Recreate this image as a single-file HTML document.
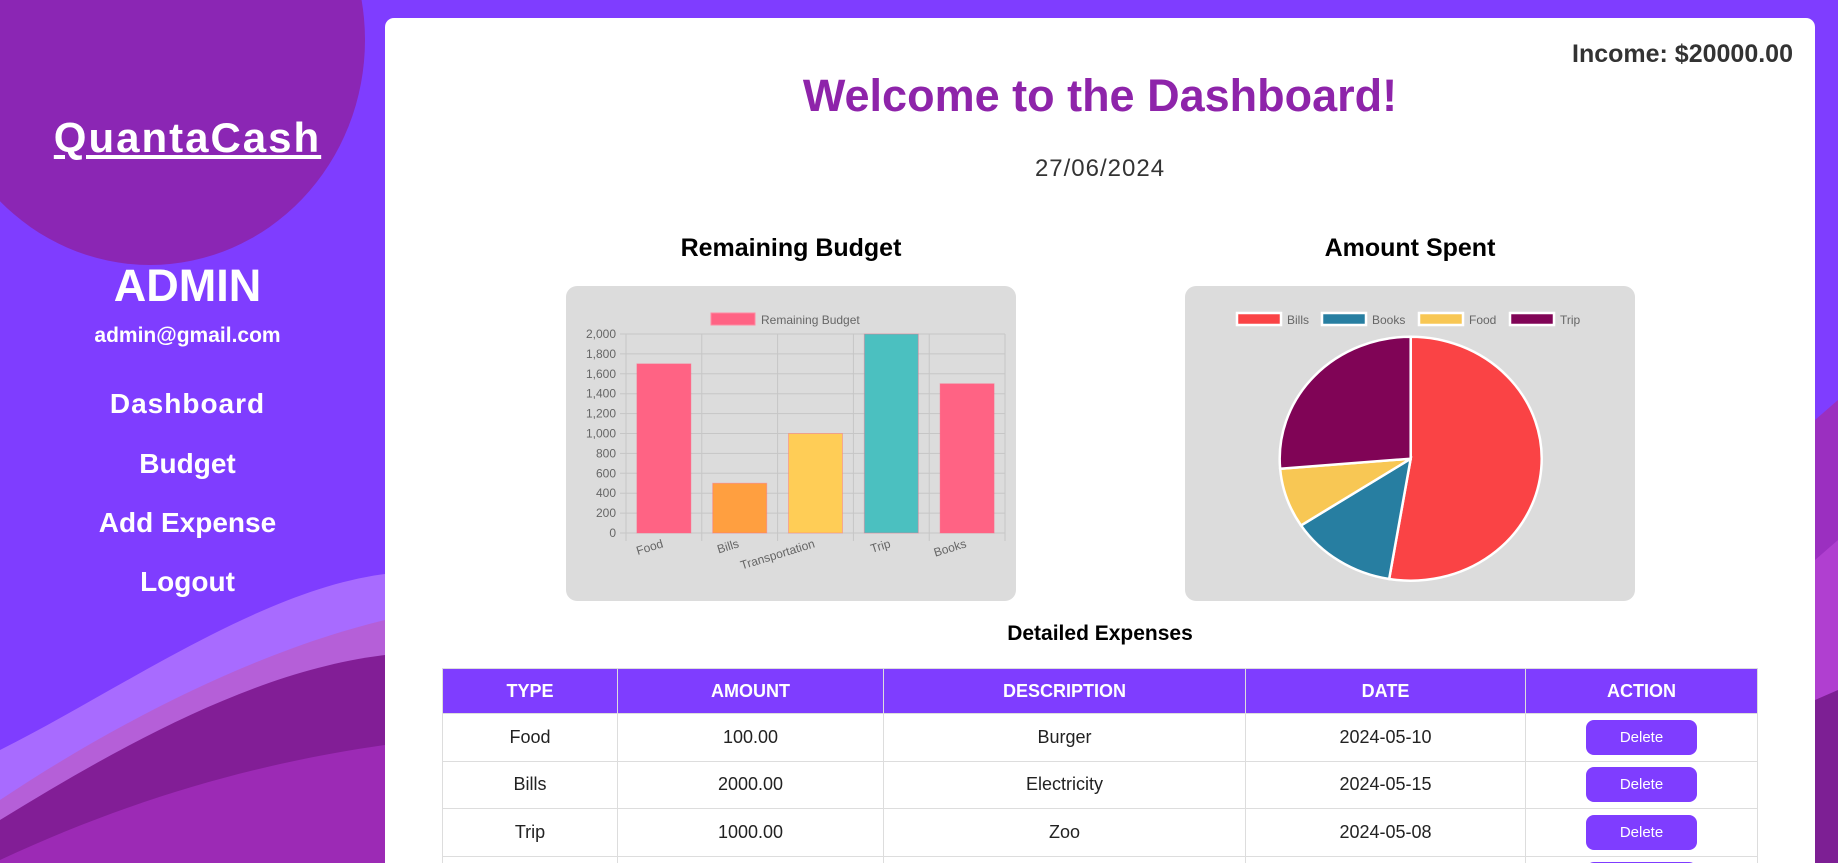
<!DOCTYPE html>
<html><head><meta charset="utf-8"><style>
*{margin:0;padding:0;box-sizing:border-box}
html,body{width:1838px;height:863px;overflow:hidden}
body{background:#7f3dff;font-family:"Liberation Sans",sans-serif;position:relative}
#root{position:absolute;left:0;top:0;width:1838px;height:863px;overflow:hidden}
.abs{position:absolute}
.side{left:0;top:0;width:385px;height:863px;overflow:hidden}
.nav{position:absolute;left:0;width:375px;text-align:center;color:#fff;font-weight:bold;font-size:28px}
.card{left:385px;top:18px;width:1430px;height:860px;background:#fff;border-radius:9px;overflow:hidden}
.ctext{position:absolute;text-align:center}
table{position:absolute;left:57px;top:650px;width:1316px;border-collapse:collapse;font-size:18px}
th{background:#7f3dff;color:#fff;height:45px;font-weight:bold;border:1px solid #ddd}
td{height:47.5px;text-align:center;border:1px solid #ddd;color:#222}
.del{display:inline-block;width:111px;height:35px;line-height:35px;background:#7f3dff;color:#fff;border-radius:8px;font-size:15px}
</style></head><body><div id="root">
<svg class="abs" style="left:0;top:0" width="1838" height="863">
<ellipse cx="150" cy="40" rx="215" ry="225" fill="#8b26b4"/>
<path d="M0 750 C120 690 260 590 385 574 L385 863 L0 863Z" fill="#a86bff"/>
<path d="M0 800 C120 720 260 650 385 620 L385 863 L0 863Z" fill="#b55fd8"/>
<path d="M0 820 C130 740 260 670 385 655 L385 863 L0 863Z" fill="#821e96"/>
<path d="M0 860 C150 790 280 760 385 745 L385 863 L0 863Z" fill="#9c2ab5"/>
<path d="M1815 420 L1838 400 L1838 863 L1815 863Z" fill="#9b2fc0"/>
<path d="M1815 560 L1838 540 L1838 863 L1815 863Z" fill="#b03fd0"/>
<path d="M1815 700 L1838 690 L1838 863 L1815 863Z" fill="#7d1f94"/>
</svg>
<div class="abs side">
<div class="nav" style="top:114px;font-size:42px;text-decoration:underline;letter-spacing:2px">QuantaCash</div>
<div class="nav" style="top:260px;font-size:45px">ADMIN</div>
<div class="nav" style="top:324px;font-size:21px">admin@gmail.com</div>
<div class="nav" style="top:388px;letter-spacing:1px">Dashboard</div>
<div class="nav" style="top:448px">Budget</div>
<div class="nav" style="top:507px">Add Expense</div>
<div class="nav" style="top:566px">Logout</div>
</div>
<div class="abs card">
<table>
<tr><th style="width:175px">TYPE</th><th style="width:266px">AMOUNT</th><th style="width:362px">DESCRIPTION</th><th style="width:280px">DATE</th><th>ACTION</th></tr>
<tr><td>Food</td><td>100.00</td><td>Burger</td><td>2024-05-10</td><td><span class="del">Delete</span></td></tr>
<tr><td>Bills</td><td>2000.00</td><td>Electricity</td><td>2024-05-15</td><td><span class="del">Delete</span></td></tr>
<tr><td>Trip</td><td>1000.00</td><td>Zoo</td><td>2024-05-08</td><td><span class="del">Delete</span></td></tr>
<tr><td>Books</td><td>500.00</td><td>Novel</td><td>2024-05-20</td><td><span class="del">Delete</span></td></tr>
</table>
</div>
<div class="abs" style="right:45px;top:40px;font-size:25px;font-weight:bold;color:#333">Income: $20000.00</div>
<div class="ctext" style="left:385px;width:1430px;top:70px;font-size:45px;font-weight:bold;color:#8e24aa">Welcome to the Dashboard!</div>
<div class="ctext" style="left:385px;width:1430px;top:155px;font-size:24px;color:#333;letter-spacing:1px">27/06/2024</div>
<div class="ctext" style="left:566px;width:450px;top:234px;font-size:25px;font-weight:bold">Remaining Budget</div>
<div class="ctext" style="left:1185px;width:450px;top:234px;font-size:25px;font-weight:bold">Amount Spent</div>
<svg class="abs" id="bar" style="left:566px;top:286px" width="450" height="315"></svg>
<svg class="abs" id="pie" style="left:1185px;top:286px" width="450" height="315"></svg>
<div class="ctext" style="left:385px;width:1430px;top:622px;font-size:21px;font-weight:bold">Detailed Expenses</div>
</div>
<script>
const barCategories=["Food","Bills","Transportation","Trip","Books"];
const barValues=[1700,500,1000,2000,1500];
const barColors=["#ff6384","#ff9f40","#ffcd56","#4bc0c0","#ff6384"];
const yTicks=[0,200,400,600,800,1000,1200,1400,1600,1800,2000];
const pieLabels=["Bills","Books","Food","Trip"];
const pieValues=[2000,500,300,1000];
const pieColors=["#fa4345","#277ea1","#f8c754","#800456"];
const NS="http://www.w3.org/2000/svg";
function mk(p,t,a){const e=document.createElementNS(NS,t);for(const k in a)e.setAttribute(k,a[k]);p.appendChild(e);return e;}
(function(){
const s=document.getElementById('bar');
const bg=mk(s,'rect',{x:0,y:0,width:450,height:315,rx:11,fill:'#dcdcdc'});


const L=60,R=439,T=48,B=247,ymax=2000;
const y=v=>B-(v/ymax)*(B-T);
const bw=(R-L)/barCategories.length;
const x=i=>L+bw*(i+0.5);
yTicks.forEach(t=>{
 mk(s,'line',{x1:L-6,x2:R,y1:y(t),y2:y(t),stroke:'#c6c6c6'});
 const tx=mk(s,'text',{x:L-10,y:y(t)+4,'text-anchor':'end','font-size':12,fill:'#666'});tx.textContent=t.toLocaleString('en-US');
 
 
});
for(let i=0;i<=barCategories.length;i++)mk(s,'line',{x1:L+bw*i,x2:L+bw*i,y1:T,y2:B+8,stroke:'#c6c6c6'});
barCategories.forEach((c,i)=>{
 const r=mk(s,'rect',{x:x(i)-27,y:y(barValues[i]),width:54,height:B-y(barValues[i]),fill:barColors[i],stroke:'rgba(255,99,132,0.4)'});
 
 
 const t=mk(s,'text',{x:x(i),y:B+14,'text-anchor':'end','font-size':12,fill:'#666',transform:`rotate(-17 ${x(i)} ${B+14})`});t.textContent=c;
 
 
});
const lg=mk(s,'rect',{x:145,y:27,width:44,height:12,fill:'#ff6384',stroke:'#ff8aa2'});


const lt=mk(s,'text',{x:195,y:38,'font-size':12,fill:'#666'});lt.textContent='Remaining Budget';


})();
(function(){
const s=document.getElementById('pie');
const bg=mk(s,'rect',{x:0,y:0,width:450,height:315,rx:11,fill:'#dcdcdc'});


const cx=225.7,cy=172.7,rx=131,ry=122;
const tot=pieValues.reduce((a,b)=>a+b,0);
let a0=-Math.PI/2;
pieValues.forEach((v,i)=>{
 const a1=a0+v/tot*2*Math.PI;
 const p=(a)=>[cx+rx*Math.cos(a),cy+ry*Math.sin(a)];
 const [x0,y0]=p(a0),[x1,y1]=p(a1);
 const lg=(a1-a0)>Math.PI?1:0;
 const sl=mk(s,'path',{d:`M${cx} ${cy} L${x0} ${y0} A${rx} ${ry} 0 ${lg} 1 ${x1} ${y1} Z`,fill:pieColors[i],stroke:'#fff','stroke-width':2.5});
 
 
 a0=a1;
});
const lx=[52,137,234,325];
pieLabels.forEach((l,i)=>{
 const r=mk(s,'rect',{x:lx[i],y:27,width:44,height:12,fill:pieColors[i],stroke:'#fff','stroke-width':2.5});
 
 
 const t=mk(s,'text',{x:lx[i]+50,y:38,'font-size':12,fill:'#666'});t.textContent=l;
 
 
});
})();
</script>
</body></html>
